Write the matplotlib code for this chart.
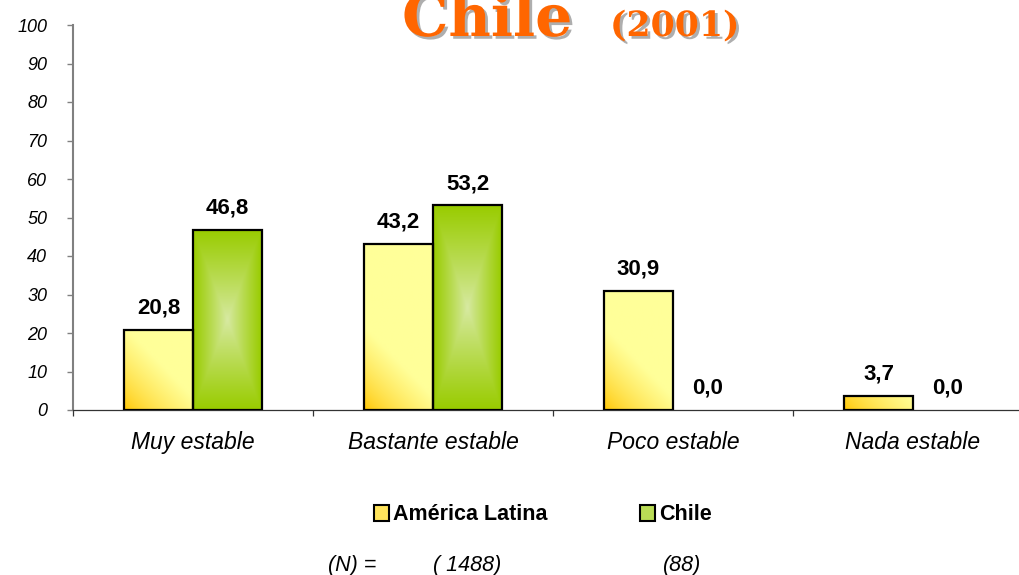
import numpy as np
import matplotlib
matplotlib.use('Agg')
from matplotlib import pyplot as plt
from matplotlib.patches import Patch
import matplotlib.patheffects as pe
from matplotlib.colors import to_rgb

categories = ['Muy estable', 'Bastante estable', 'Poco estable', 'Nada estable']
america_latina = [20.8, 43.2, 30.9, 3.7]
chile = [46.8, 53.2, 0.0, 0.0]
series_names = ['América Latina', 'Chile']
n_labels = ['(N) =', '( 1488)', '(88)']
yticks = list(range(0, 101, 10))

plt.rcParams['font.family'] = ['Liberation Sans', 'DejaVu Sans']

fig = plt.figure(figsize=(10.2, 5.75), dpi=100)
ax = fig.add_axes([73 / 1020, 1 - 410 / 575, 960 / 1020, 385 / 575])
ax.set_xlim(-0.5, 3.5)
ax.set_ylim(0, 100)

x = np.arange(len(categories))
w = 0.2875

yellow_dark = np.array(to_rgb('#FFC400'))
yellow_light = np.array(to_rgb('#FFFF99'))
green_dark = np.array(to_rgb('#99CC00'))
green_light = np.array(to_rgb('#D8EAA4'))


def yellow_grad(bar_h):
    # diagonal gradient, orange at bottom-left corner
    ny = 80
    u = np.linspace(0, 1, 40)[None, :]
    # height relative to bar width in pixels (bar width ~69px, 3.85px per unit)
    hv = np.linspace(bar_h * 3.85 / 69.0, 0, ny)[:, None]
    t = np.clip((u + hv) / 1.2, 0, 1) ** 0.7
    return yellow_dark * (1 - t[..., None]) + yellow_light * t[..., None]


def green_grad():
    u = np.linspace(-1, 1, 60)[None, :]
    v = np.linspace(-1, 1, 120)[:, None]
    t = np.maximum(np.abs(u), np.abs(v))
    t = np.clip(t, 0, 1) ** 0.9
    return green_light * (1 - t[..., None]) + green_dark * t[..., None]


def edge_w(vals):
    return [1.6 if v > 0 else 0 for v in vals]


bars_al = ax.bar(x - w / 2, america_latina, w, facecolor='none',
                 edgecolor='black', linewidth=edge_w(america_latina), zorder=3)
bars_ch = ax.bar(x + w / 2, chile, w, facecolor='none',
                 edgecolor='black', linewidth=edge_w(chile), zorder=3)

for b, v in zip(bars_al, america_latina):
    if v <= 0:
        continue
    im = ax.imshow(yellow_grad(v), extent=[b.get_x(), b.get_x() + w, 0, v],
                   aspect='auto', zorder=2, interpolation='bilinear')
    im.set_clip_path(b)
for b, v in zip(bars_ch, chile):
    if v <= 0:
        continue
    im = ax.imshow(green_grad(), extent=[b.get_x(), b.get_x() + w, 0, v],
                   aspect='auto', zorder=2, interpolation='bilinear')
    im.set_clip_path(b)
ax.set_xlim(-0.5, 3.5)
ax.set_ylim(0, 100)

for bars, vals in [(bars_al, america_latina), (bars_ch, chile)]:
    for b, v in zip(bars, vals):
        ax.annotate(f'{v:.1f}'.replace('.', ','), (b.get_x() + w / 2, v),
                    xytext=(0, 8), textcoords='offset points',
                    ha='center', va='bottom', fontsize=16, fontweight='bold')

for s in ['top', 'right']:
    ax.spines[s].set_visible(False)
ax.spines['left'].set_color('#808080')
ax.spines['left'].set_linewidth(1.5)
ax.spines['bottom'].set_color('#333333')
ax.spines['bottom'].set_linewidth(0.9)

ax.set_yticks(yticks)
ax.set_yticklabels([str(t) for t in yticks], fontsize=13, style='italic')
ax.tick_params(axis='y', length=4.5, width=1, color='#808080', pad=14)

ax.set_xticks(x)
ax.set_xticklabels(categories, fontsize=16.5, style='italic')
ax.set_xticks(np.arange(-0.5, 4, 1), minor=True)
ax.tick_params(axis='x', which='major', length=0, pad=15)
ax.tick_params(axis='x', which='minor', length=4.5, width=0.9, color='#333333')

handles = [Patch(facecolor='#FFE45C', edgecolor='black', linewidth=1.5),
           Patch(facecolor='#BADC55', edgecolor='black', linewidth=1.5)]
fig.legend(handles, series_names, loc='center', bbox_to_anchor=(543 / 1020, 1 - 515 / 575),
           ncol=2, frameon=False, prop={'weight': 'bold', 'size': 15.5},
           handlelength=0.7, handleheight=0.7, handletextpad=0.2, columnspacing=4.3)

for lbl, xl in zip(n_labels, [328, 433, 663]):
    fig.text(xl / 1020, 1 - 565 / 575, lbl, ha='left', va='center',
             fontsize=15.5, style='italic')

shadow = [pe.withSimplePatchShadow(offset=(2, -2), shadow_rgbFace='#9A9A9A', alpha=0.8)]
fig.text(402 / 1020, 1 - 36 / 575, 'Chile', ha='left', va='baseline',
         family='DejaVu Serif', fontweight='bold', fontsize=42, color='#FF6600',
         path_effects=shadow)
fig.text(610 / 1020, 1 - 36 / 575, '(2001)', ha='left', va='baseline',
         family='DejaVu Serif', fontweight='bold', fontsize=25, color='#FF6600',
         path_effects=shadow)

fig.savefig('out.png', dpi=100)
